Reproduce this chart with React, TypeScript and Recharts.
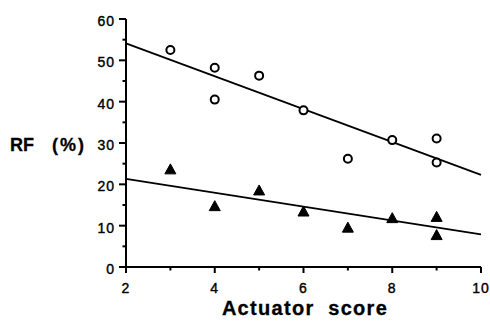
import React from 'react';
import { ComposedChart, XAxis, YAxis, Scatter, ReferenceLine, Label } from 'recharts';

const openScores = [3, 4, 4, 5, 6, 7, 8, 9, 9];
const openRF = [52.5, 48.2, 40.5, 46.3, 37.9, 26.2, 30.7, 31.1, 25.3];
const filledScores = [3, 4, 5, 6, 7, 8, 9, 9];
const filledRF = [23.5, 14.6, 18.4, 13.3, 9.4, 11.7, 12.0, 7.6];
const openFitX = [2, 10];
const openFitY = [54.1, 22.3];
const filledFitX = [2, 10];
const filledFitY = [21.3, 7.9];
const xTicks = [2, 3, 4, 5, 6, 7, 8, 9, 10];
const yTicks = [0, 5, 10, 15, 20, 25, 30, 35, 40, 45, 50, 55, 60];

const openData = openScores.map((x, i) => ({ x, y: openRF[i] }));
const filledData = filledScores.map((x, i) => ({ x, y: filledRF[i] }));

const FONT = '"Liberation Sans", Arial, Helvetica, sans-serif';

const XTick = (props: any) => {
  const { x, y, payload } = props;
  const major = payload.value % 2 === 0;
  return (
    <g>
      <path d={`M${x},${y}V${y + (major ? 6 : 3.5)}`} stroke="#000" strokeWidth={2} />
      {major && (
        <text x={x} y={y + 26} textAnchor="middle" fontSize={14} fontFamily={FONT} fill="#000" stroke="#000" strokeWidth={0.4} letterSpacing={1}>
          {payload.value}
        </text>
      )}
    </g>
  );
};

const YTick = (props: any) => {
  const { x, y, payload } = props;
  const major = payload.value % 10 === 0;
  return (
    <g>
      <path d={`M${x - (major ? 7 : 3.5)},${y}H${x}`} stroke="#000" strokeWidth={2} />
      {major && (
        <text x={x - 11} y={y + 7} textAnchor="end" fontSize={14} fontFamily={FONT} fill="#000" stroke="#000" strokeWidth={0.4} letterSpacing={1}>
          {payload.value}
        </text>
      )}
    </g>
  );
};

const OpenCircle = (props: any) => {
  const { cx, cy } = props;
  return <circle cx={cx} cy={cy} r={4} fill="#fff" stroke="#000" strokeWidth={2} />;
};

const Triangle = (props: any) => {
  const { cx, cy } = props;
  return <path d={`M${cx},${cy - 6} L${cx + 5.5},${cy + 4} L${cx - 5.5},${cy + 4} Z`} fill="#000" stroke="#000" strokeWidth={1} />;
};

const YTitle = (props: any) => {
  const vb = props.viewBox || { x: 0, y: 19, width: 126, height: 248 };
  const base = vb.y + 132;
  return (
    <g>
      <text x={vb.x + 10} y={base} fontSize={18} fontWeight="bold" fontFamily={FONT} fill="#000" stroke="#000" strokeWidth={0.3}>RF</text>
      <text x={vb.x + 52} y={base} fontSize={18} fontWeight="bold" fontFamily={FONT} fill="#000" stroke="#000" strokeWidth={0.3} letterSpacing={2}>(%)</text>
    </g>
  );
};

const XTitle = (props: any) => {
  const vb = props.viewBox || { x: 126, y: 267, width: 355, height: 55 };
  return (
    <text x={vb.x + vb.width / 2 + 1.5} y={vb.y + 48} textAnchor="middle" fontSize={20} fontWeight="bold" fontFamily={FONT} fill="#000" stroke="#000" strokeWidth={0.3} letterSpacing={1.3}>
      Actuator{'\u00a0\u00a0'}score
    </text>
  );
};

export default function App() {
  return (
    <div style={{ position: 'absolute', left: 0, top: 0, width: 490, height: 322, background: '#fff' }}>
      <ComposedChart width={490} height={322} margin={{ top: 19, right: 9, bottom: 0, left: 0 }}>
        <XAxis
          type="number"
          dataKey="x"
          domain={[2, 10]}
          ticks={xTicks}
          interval={0}
          height={55}
          tickSize={0}
          tickMargin={0}
          tickLine={false}
          axisLine={{ stroke: '#000', strokeWidth: 2 }}
          tick={(p: any) => <XTick {...p} />}
          allowDataOverflow
        >
          <Label content={(p: any) => <XTitle {...p} />} />
        </XAxis>
        <YAxis
          type="number"
          dataKey="y"
          domain={[0, 60]}
          ticks={yTicks}
          interval={0}
          width={126}
          tickSize={0}
          tickMargin={0}
          tickLine={false}
          axisLine={{ stroke: '#000', strokeWidth: 2 }}
          tick={(p: any) => <YTick {...p} />}
          allowDataOverflow
        >
          <Label content={(p: any) => <YTitle {...p} />} />
        </YAxis>
        <ReferenceLine
          segment={[{ x: openFitX[0], y: openFitY[0] }, { x: openFitX[1], y: openFitY[1] }]}
          stroke="#000"
          strokeWidth={1.8}
          ifOverflow="visible"
        />
        <ReferenceLine
          segment={[{ x: filledFitX[0], y: filledFitY[0] }, { x: filledFitX[1], y: filledFitY[1] }]}
          stroke="#000"
          strokeWidth={1.8}
          ifOverflow="visible"
        />
        <Scatter data={openData} dataKey="y" shape={(p: any) => <OpenCircle {...p} />} isAnimationActive={false} />
        <Scatter data={filledData} dataKey="y" shape={(p: any) => <Triangle {...p} />} isAnimationActive={false} />
      </ComposedChart>
    </div>
  );
}
